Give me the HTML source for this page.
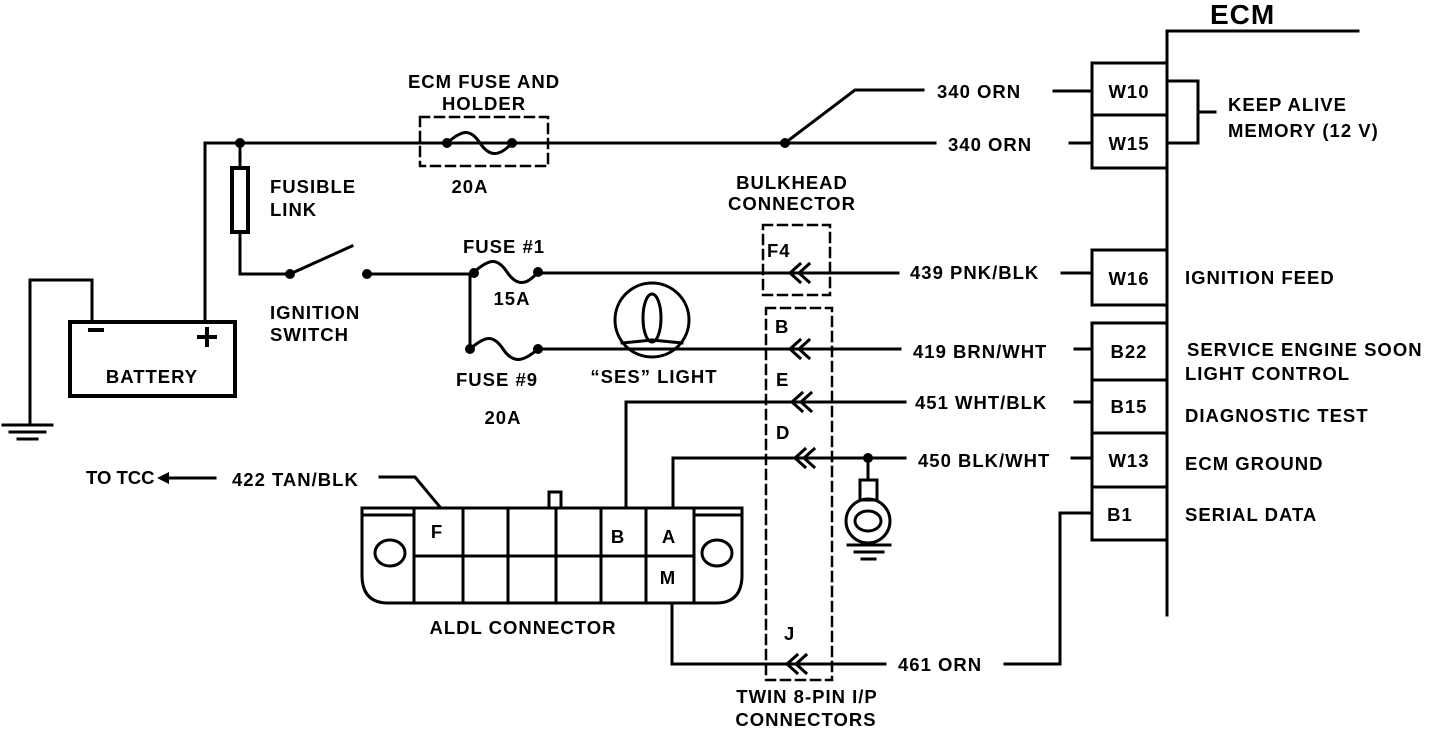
<!DOCTYPE html>
<html><head><meta charset="utf-8"><style>
html,body{margin:0;padding:0;background:#fff;}
svg{display:block;}
text{font-family:"Liberation Sans",sans-serif;font-weight:bold;font-size:18.5px;letter-spacing:1px;fill:#000;}
</style></head><body>
<svg width="1440" height="730" viewBox="0 0 1440 730" xmlns="http://www.w3.org/2000/svg">
<g fill="none" stroke="#000" stroke-width="3" stroke-linecap="square">
<polyline points="30,425 30,280 92,280 92,322"/>
<line x1="3" y1="425" x2="52" y2="425"/><line x1="10" y1="432" x2="45" y2="432"/><line x1="18" y1="439" x2="37" y2="439"/>
<rect x="70" y="322" width="165" height="74" stroke-width="4"/>
<polyline points="205,322 205,143 935,143"/>
<line x1="1070" y1="143" x2="1092" y2="143"/>
<rect x="232" y="168" width="16" height="64" stroke-width="4"/>
<line x1="240" y1="143" x2="240" y2="168"/>
<polyline points="240,232 240,274 290,274"/>
<line x1="290" y1="274" x2="352" y2="246"/>
<line x1="367" y1="274" x2="474" y2="274"/>
<line x1="538" y1="273" x2="898" y2="273"/>
<line x1="1062" y1="273" x2="1092" y2="273"/>
<polyline points="470,274 470,349"/>
<line x1="538" y1="349" x2="900" y2="349"/>
<line x1="1075" y1="349" x2="1092" y2="349"/>
<path d="M447,143 C462,130 470,128 480,143 C490,158 500,156 512,143"/>
<path d="M474,272 C489,259 497,257 507,272 C517,287 527,285 538,272"/>
<path d="M470,349 C485,336 493,334 503,349 C513,364 523,362 538,349"/>
<polyline points="785,143 855,90 923,90"/>
<line x1="1054" y1="91" x2="1092" y2="91"/>
<line x1="1167" y1="31" x2="1167" y2="615"/>
<line x1="1167" y1="31" x2="1358" y2="31"/>
<rect x="1092" y="63" width="75" height="52"/>
<rect x="1092" y="115" width="75" height="53"/>
<polyline points="1170,81 1198,81 1198,143 1170,143"/>
<line x1="1198" y1="112" x2="1215" y2="112"/>
<rect x="1092" y="250" width="75" height="55"/>
<rect x="1092" y="323" width="75" height="57"/>
<rect x="1092" y="380" width="75" height="53"/>
<rect x="1092" y="433" width="75" height="54"/>
<rect x="1092" y="487" width="75" height="53"/>
<polyline points="626,507 626,402 905,402"/>
<line x1="1075" y1="402" x2="1092" y2="402"/>
<polyline points="673,507 673,458 905,458"/>
<line x1="1072" y1="458" x2="1092" y2="458"/>
<line x1="868" y1="458" x2="868" y2="480"/>
<rect x="860" y="480" width="17" height="20"/>
<circle cx="868" cy="521" r="22"/>
<ellipse cx="868" cy="521" rx="13" ry="10"/>
<line x1="848" y1="545" x2="890" y2="545"/><line x1="855" y1="552" x2="883" y2="552"/><line x1="862" y1="559" x2="875" y2="559"/>
<polyline points="672,603 672,664 885,664"/>
<polyline points="1005,664 1060,664 1060,513 1092,513"/>
<circle cx="652" cy="320" r="37"/>
<ellipse cx="652" cy="318" rx="9" ry="24"/>
<line x1="652" y1="340" x2="622" y2="343"/><line x1="652" y1="340" x2="682" y2="343"/>
<polyline points="380,477 415,477 440,507"/>
<line x1="165" y1="478" x2="215" y2="478"/>
<path d="M362,508 L742,508 L742,575 Q742,603 716,603 L388,603 Q362,603 362,575 Z"/>
<line x1="414" y1="556" x2="694" y2="556"/>
<line x1="414" y1="508" x2="414" y2="603"/><line x1="463" y1="508" x2="463" y2="603"/><line x1="508" y1="508" x2="508" y2="603"/>
<line x1="556" y1="508" x2="556" y2="603"/><line x1="601" y1="508" x2="601" y2="603"/><line x1="646" y1="508" x2="646" y2="603"/><line x1="694" y1="508" x2="694" y2="603"/>
<line x1="365" y1="515" x2="411" y2="515"/><line x1="697" y1="515" x2="739" y2="515"/>
<rect x="549" y="492" width="12" height="16"/>
<ellipse cx="390" cy="553" rx="15" ry="13"/>
<ellipse cx="717" cy="553" rx="15" ry="13"/>
<g stroke-dasharray="9,6" stroke-width="2.5">
<rect x="420" y="117" width="128" height="49"/>
<rect x="763" y="225" width="67" height="70"/>
<rect x="766" y="308" width="66" height="372"/>
</g>
<g stroke-width="3">
<polyline points="800,264 790,273 800,282"/><polyline points="809,264 799,273 809,282"/>
<polyline points="800,340 790,349 800,358"/><polyline points="809,340 799,349 809,358"/>
<polyline points="802,393 792,402 802,411"/><polyline points="811,393 801,402 811,411"/>
<polyline points="805,449 795,458 805,467"/><polyline points="814,449 804,458 814,467"/>
<polyline points="797,655 787,664 797,673"/><polyline points="806,655 796,664 806,673"/>
</g>
</g>
<g fill="#000">
<circle cx="240" cy="143" r="5"/><circle cx="785" cy="143" r="5"/>
<circle cx="290" cy="274" r="5"/><circle cx="367" cy="274" r="5"/>
<circle cx="447" cy="143" r="5"/><circle cx="512" cy="143" r="5"/>
<circle cx="474" cy="273" r="5"/><circle cx="538" cy="272" r="5"/>
<circle cx="470" cy="349" r="5"/><circle cx="538" cy="349" r="5"/>
<circle cx="868" cy="458" r="5"/>
<polygon points="157,478 169,472 169,484"/>
<rect x="88" y="328" width="16" height="4"/>
<rect x="197" y="335" width="20" height="4"/><rect x="205" y="327" width="4" height="20"/>
</g>
<text x="1210" y="24" style="font-size:28px">ECM</text>
<g text-anchor="middle">
<text x="152" y="383">BATTERY</text>
<text x="484" y="88">ECM FUSE AND</text><text x="484" y="110">HOLDER</text>
<text x="470" y="193">20A</text>
<text x="504" y="253">FUSE #1</text><text x="512" y="305">15A</text>
<text x="497" y="386">FUSE #9</text><text x="503" y="424">20A</text>
<text x="654" y="383">“SES” LIGHT</text>
<text x="792" y="189">BULKHEAD</text><text x="792" y="210">CONNECTOR</text>
<text x="523" y="634">ALDL CONNECTOR</text>
<text x="807" y="703">TWIN 8-PIN I/P</text><text x="806" y="726">CONNECTORS</text>
<text x="1129" y="98">W10</text><text x="1129" y="150">W15</text>
<text x="1129" y="285">W16</text><text x="1129" y="358">B22</text>
<text x="1129" y="413">B15</text><text x="1129" y="467">W13</text>
<text x="1120" y="521">B1</text>
<text x="437" y="538">F</text><text x="618" y="543">B</text><text x="669" y="543">A</text><text x="668" y="584">M</text>
</g>
<text x="270" y="193">FUSIBLE</text><text x="270" y="216">LINK</text>
<text x="270" y="319">IGNITION</text><text x="270" y="341">SWITCH</text>
<text x="937" y="98">340 ORN</text>
<text x="948" y="151">340 ORN</text>
<text x="910" y="279">439 PNK/BLK</text>
<text x="913" y="358">419 BRN/WHT</text>
<text x="915" y="409">451 WHT/BLK</text>
<text x="918" y="467">450 BLK/WHT</text>
<text x="898" y="671">461 ORN</text>
<text x="232" y="486">422 TAN/BLK</text>
<text x="86" y="484" style="letter-spacing:0">TO TCC</text>
<text x="767" y="257">F4</text>
<text x="775" y="333">B</text><text x="776" y="386">E</text><text x="776" y="439">D</text><text x="784" y="640">J</text>
<text x="1228" y="111">KEEP ALIVE</text><text x="1228" y="137">MEMORY (12 V)</text>
<text x="1185" y="284">IGNITION FEED</text>
<text x="1187" y="356">SERVICE ENGINE SOON</text>
<text x="1185" y="380">LIGHT CONTROL</text>
<text x="1185" y="422">DIAGNOSTIC TEST</text>
<text x="1185" y="470">ECM GROUND</text>
<text x="1185" y="521">SERIAL DATA</text>
</svg>
</body></html>
